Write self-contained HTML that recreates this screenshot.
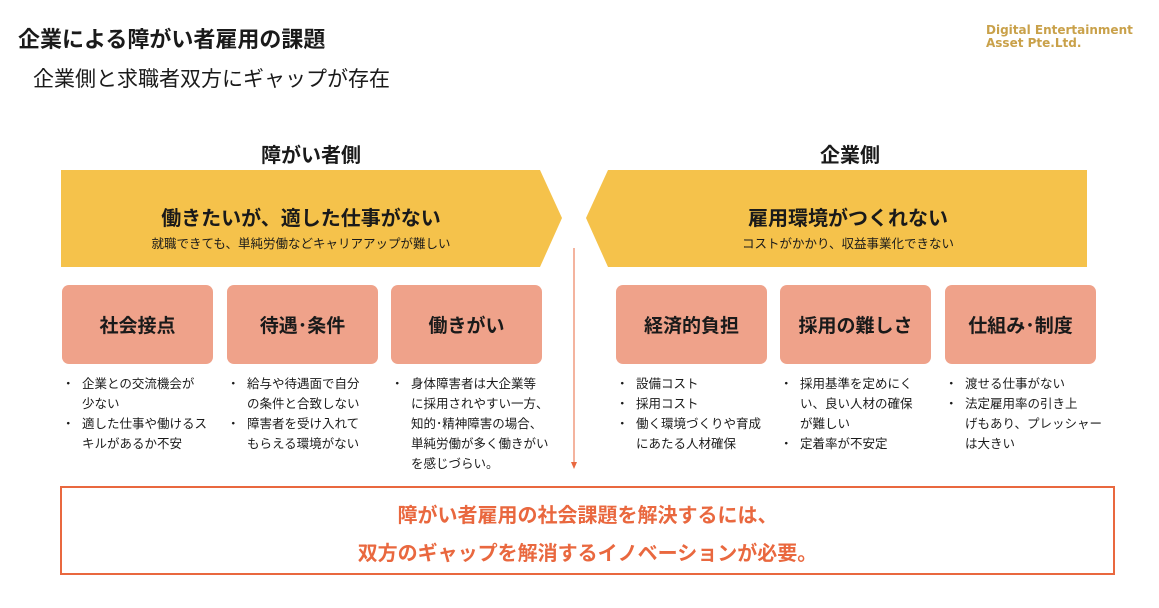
<!DOCTYPE html>
<html><head><meta charset="utf-8"><style>
body{margin:0;width:1159px;height:608px;background:#fff;position:relative;overflow:hidden;font-family:"Liberation Sans","Noto Sans CJK JP",sans-serif;color:#1a1a1a}
.a{position:absolute}
.h1{left:18px;top:22px;font-size:22px;font-weight:bold}
.h2{left:33px;top:63px;font-size:21px}
.logo{left:986px;top:24px;font-size:12px;font-weight:bold;color:#c9a14a;line-height:13px;font-family:"DejaVu Sans",sans-serif}
.sec{font-size:20px;font-weight:bold;text-align:center}
.box{background:#EFA28A;border-radius:7px;width:151px;height:79px;display:flex;align-items:center;justify-content:center;font-size:19px;font-weight:bold;top:285px}
ul{position:absolute;margin:0;padding:0;list-style:none;font-size:12.5px;line-height:20px;top:374px;white-space:nowrap}
li{padding-left:16px;position:relative}
li:before{content:"・";position:absolute;left:-4px}
.big{font-size:20px;font-weight:bold;text-align:center}
.small{font-size:12.5px;text-align:center}
</style></head><body>
<div class="a h1">企業による障がい者雇用の課題</div>
<div class="a h2">企業側と求職者双方にギャップが存在</div>
<div class="a logo">Digital Entertainment<br>Asset Pte.Ltd.</div>
<div class="a sec" style="left:211px;width:200px;top:139px">障がい者側</div>
<div class="a sec" style="left:750px;width:200px;top:139px">企業側</div>
<svg class="a" style="left:0;top:0" width="1159" height="608">
<polygon points="61,170 540,170 562,218 540,267 61,267" fill="#F5C24B"/>
<polygon points="608,170 1087,170 1087,267 608,267 586,218" fill="#F5C24B"/>
<line x1="574" y1="248" x2="574" y2="462" stroke="#E9683F" stroke-width="1"/>
<polygon points="571,462 577,462 574,469" fill="#E9683F"/>
<rect x="61" y="487" width="1053" height="87" fill="none" stroke="#E9683F" stroke-width="2"/>
</svg>
<div class="a big" style="left:61px;width:480px;top:202px">働きたいが、適した仕事がない</div>
<div class="a small" style="left:61px;width:480px;top:233px">就職できても、単純労働などキャリアアップが難しい</div>
<div class="a big" style="left:608px;width:540px;top:202px;width:480px;">雇用環境がつくれない</div>
<div class="a small" style="left:608px;width:480px;top:233px">コストがかかり、収益事業化できない</div>
<div class="a box" style="left:62px">社会接点</div>
<div class="a box" style="left:227px">待遇･条件</div>
<div class="a box" style="left:391px">働きがい</div>
<div class="a box" style="left:616px">経済的負担</div>
<div class="a box" style="left:780px">採用の難しさ</div>
<div class="a box" style="left:945px">仕組み･制度</div>
<ul style="left:66px"><li>企業との交流機会が<br>少ない</li><li>適した仕事や働けるス<br>キルがあるか不安</li></ul>
<ul style="left:231px"><li>給与や待遇面で自分<br>の条件と合致しない</li><li>障害者を受け入れて<br>もらえる環境がない</li></ul>
<ul style="left:395px"><li>身体障害者は大企業等<br>に採用されやすい一方、<br>知的･精神障害の場合、<br>単純労働が多く働きがい<br>を感じづらい。</li></ul>
<ul style="left:620px"><li>設備コスト</li><li>採用コスト</li><li>働く環境づくりや育成<br>にあたる人材確保</li></ul>
<ul style="left:784px"><li>採用基準を定めにく<br>い、良い人材の確保<br>が難しい</li><li>定着率が不安定</li></ul>
<ul style="left:949px"><li>渡せる仕事がない</li><li>法定雇用率の引き上<br>げもあり、プレッシャー<br>は大きい</li></ul>
<div class="a big" style="left:61px;width:1053px;top:497px;color:#E9683F;line-height:38px">障がい者雇用の社会課題を解決するには、<br>双方のギャップを解消するイノベーションが必要。</div>
</body></html>
